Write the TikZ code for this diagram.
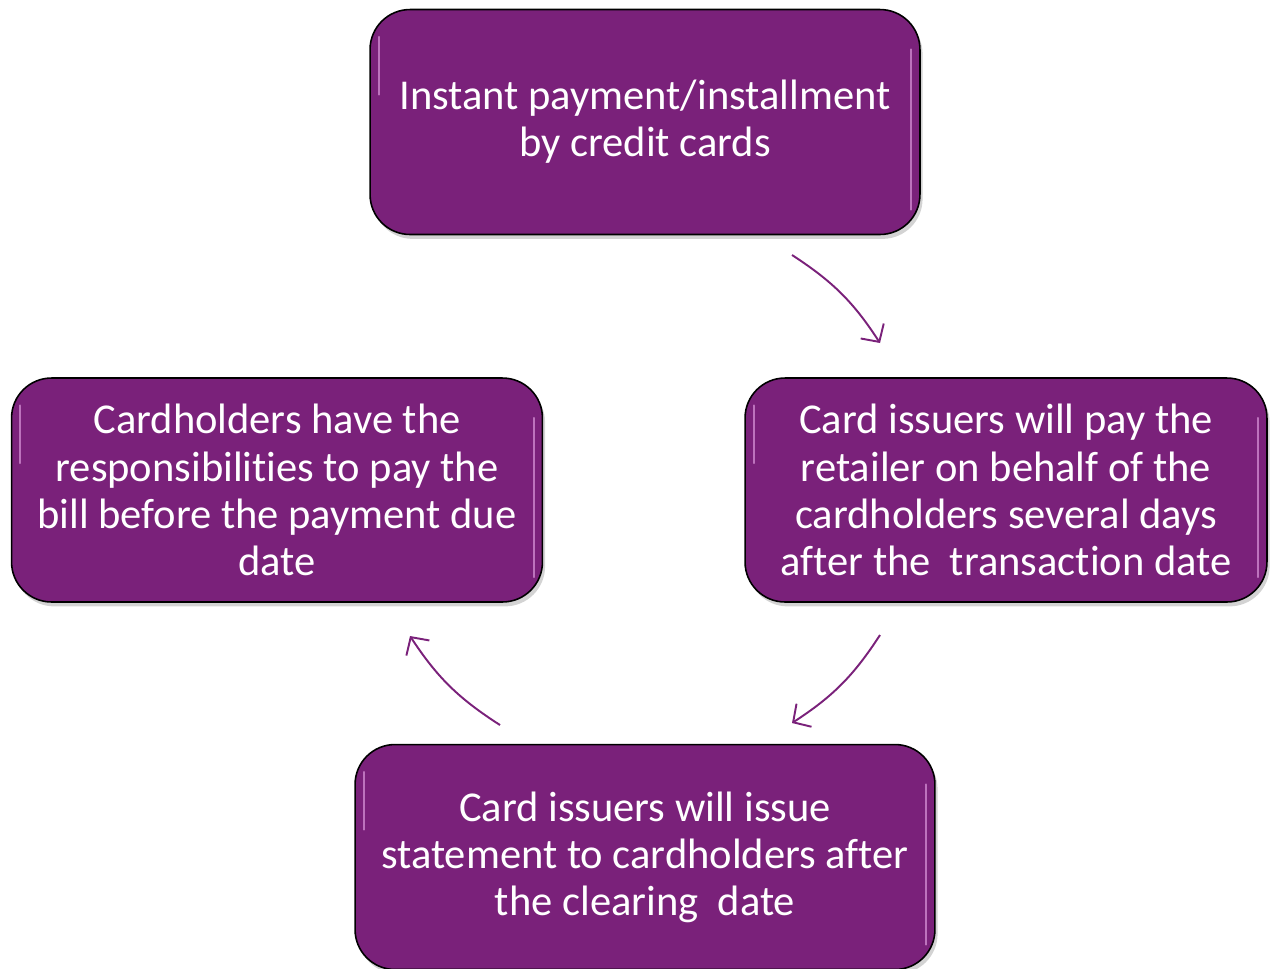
\documentclass[tikz,border=0pt]{standalone}
\usepackage{fontspec}
\setmainfont{Carlito}[Ligatures={NoCommon,NoContextual}]
\usetikzlibrary{positioning,shapes,shadows,arrows.meta}
\definecolor{mypurple}{RGB}{122,33,122}
\definecolor{mygloss}{RGB}{235,170,235}

\begin{document}
\begin{tikzpicture}[x=0.02cm,y=-0.02cm,
  stepbox/.style={draw=black,line width=0.9pt,fill=mypurple,rounded corners=0.8cm,
    align=center,text=white,font=\fontsize{24.2}{26.8}\selectfont,inner sep=0pt,
    drop shadow={opacity=0.35,shadow xshift=1.5pt,shadow yshift=-2.5pt},
    path picture={
      \draw[mygloss,line width=1.3pt,line cap=round,opacity=0.6]
        ([xshift=5pt,yshift=-0.55cm]path picture bounding box.north west)
        -- ([xshift=5pt,yshift=-1.7cm]path picture bounding box.north west);
      \draw[mygloss,line width=1.3pt,line cap=round,opacity=0.6]
        ([xshift=-5pt,yshift=-0.8cm]path picture bounding box.north east)
        -- ([xshift=-5pt,yshift=0.5cm]path picture bounding box.south east);}},
  flow/.style={mypurple,line width=1.1pt,-{Straight Barb[length=2.6mm,width=5.5mm]}}]
\useasboundingbox (0,0) rectangle (1270,968);

\node[stepbox,minimum width=11cm,minimum height=4.5cm] (pay) at (645,122)
  {Instant payment/installment\\by credit cards};
\node[stepbox,minimum width=10.44cm,minimum height=4.48cm] (issuer) at (1006,490)
  {Card issuers will pay the\\retailer on behalf of the\\cardholders several days\\after the~ transaction date};
\node[stepbox,minimum width=11.6cm,minimum height=4.5cm] (statement) at (645,857)
  {Card issuers will issue\\statement to cardholders after\\the clearing~ date};
\node[stepbox,minimum width=10.62cm,minimum height=4.48cm] (cardholder) at (277,490)
  {Cardholders have the\\responsibilities to pay the\\bill before the payment due\\date};

% arrow ends (they stand free between the boxes)
\coordinate (a1) at (792,255);
\coordinate (b1) at (880,343);
\coordinate (a2) at (880,635);
\coordinate (b2) at (792,723);
\coordinate (a3) at (500,725);
\coordinate (b3) at (410,636);

\draw[flow] (a1) to[bend left=12] (b1);
\draw[flow] (a2) to[bend left=12] (b2);
\draw[flow] (a3) to[bend left=12] (b3);

\end{tikzpicture}
\end{document}
